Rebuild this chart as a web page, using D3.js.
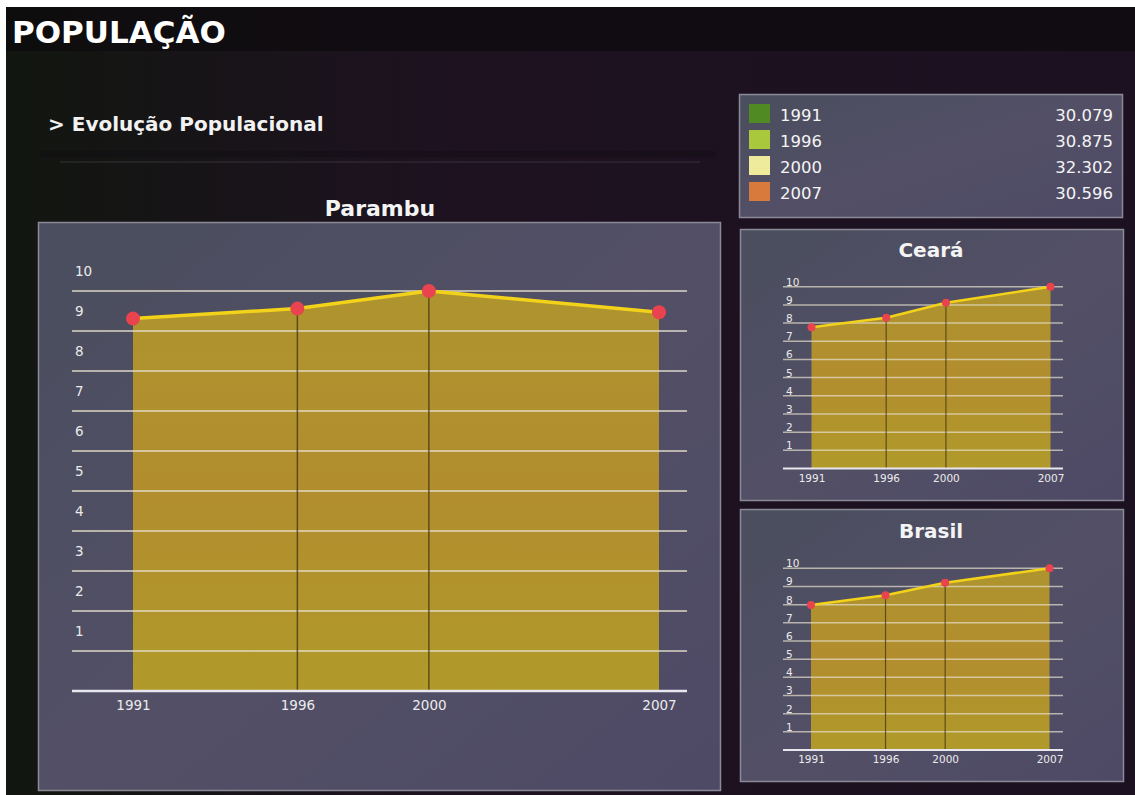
<!DOCTYPE html>
<html>
<head>
<meta charset="utf-8">
<script src="https://cdn.jsdelivr.net/npm/d3@7"></script>
<style>
  html, body { margin: 0; padding: 0; background: #ffffff; }
  svg { display: block; }
  text { font-family: "DejaVu Sans", Verdana, sans-serif; }
</style>
</head>
<body>
<svg id="chart" width="1135" height="795"></svg>
<script>
// ---------- DATA ----------
const years = [1991, 1996, 2000, 2007];
const parambuValues = [9.31, 9.56, 10.0, 9.47];
const cearaValues = [7.77, 8.29, 9.12, 10.0];
const brasilValues = [7.98, 8.52, 9.21, 10.0];
const yTickValues = [1, 2, 3, 4, 5, 6, 7, 8, 9, 10];
const legendYears = ["1991", "1996", "2000", "2007"];
const legendPopulation = ["30.079", "30.875", "32.302", "30.596"];
const legendColors = ["#4f8a22", "#a9c83c", "#eeec9c", "#d87a3c"];
const pageTitle = "POPULAÇÃO";
const sectionTitle = "> Evolução Populacional";

// ---------- SETUP ----------
const svg = d3.select("#chart");
const defs = svg.append("defs");

const bgGrad = defs.append("linearGradient").attr("id", "bgGrad")
  .attr("x1", 0).attr("y1", 0).attr("x2", 1).attr("y2", 0);
bgGrad.append("stop").attr("offset", "0%").attr("stop-color", "#121610");
bgGrad.append("stop").attr("offset", "40%").attr("stop-color", "#1e1221");
bgGrad.append("stop").attr("offset", "100%").attr("stop-color", "#1c1120");

const panelGrad = defs.append("linearGradient").attr("id", "panelGrad")
  .attr("x1", 0).attr("y1", 0).attr("x2", 1).attr("y2", 1);
panelGrad.append("stop").attr("offset", "0%").attr("stop-color", "#4a4e5e");
panelGrad.append("stop").attr("offset", "50%").attr("stop-color", "#524f66");
panelGrad.append("stop").attr("offset", "100%").attr("stop-color", "#4e4a66");

const areaGrad = defs.append("linearGradient").attr("id", "areaGrad")
  .attr("x1", 0).attr("y1", 0).attr("x2", 0).attr("y2", 1);
areaGrad.append("stop").attr("offset", "0%").attr("stop-color", "#ae942e");
areaGrad.append("stop").attr("offset", "50%").attr("stop-color", "#b28d2e");
areaGrad.append("stop").attr("offset", "100%").attr("stop-color", "#b09a2a");

// page background
svg.append("rect").attr("x", 0).attr("y", 0).attr("width", 1135).attr("height", 795).attr("fill", "#ffffff");
svg.append("rect").attr("x", 6).attr("y", 7).attr("width", 1129).attr("height", 788).attr("fill", "url(#bgGrad)");
svg.append("rect").attr("x", 6).attr("y", 7).attr("width", 1129).attr("height", 44).attr("fill", "#0d0b0e").attr("opacity", 0.75);

// title
svg.append("text").attr("x", 12).attr("y", 43)
  .attr("fill", "#ffffff").attr("font-weight", "bold").attr("font-size", 31)
  .text(pageTitle);

svg.append("text").attr("x", 48).attr("y", 131)
  .attr("fill", "#f2f2f2").attr("font-weight", "bold").attr("font-size", 20)
  .text(sectionTitle);

// separator
svg.append("rect").attr("x", 40).attr("y", 151).attr("width", 676).attr("height", 6).attr("fill", "#0f0c10").attr("opacity", 0.35);
svg.append("line").attr("x1", 60).attr("x2", 700).attr("y1", 162).attr("y2", 162)
  .attr("stroke", "#5a5560").attr("stroke-width", 1).attr("opacity", 0.45);

// ---------- LEGEND ----------
svg.append("rect").attr("x", 739.5).attr("y", 94.5).attr("width", 383).attr("height", 123)
  .attr("fill", "url(#panelGrad)").attr("stroke", "#8d8a98").attr("stroke-width", 1.5);
const legend = svg.append("g");
legendYears.forEach((yr, i) => {
  const row = legend.append("g").attr("transform", `translate(0, ${104 + i * 26})`);
  row.append("rect").attr("x", 749).attr("y", 0).attr("width", 21).attr("height", 19).attr("fill", legendColors[i]);
  row.append("text").attr("x", 780).attr("y", 17).attr("fill", "#f4f4f4").attr("font-size", 16.5).text(yr);
  row.append("text").attr("x", 1113).attr("y", 17).attr("text-anchor", "end").attr("fill", "#f4f4f4").attr("font-size", 16.5).text(legendPopulation[i]);
});

// ---------- CHART HELPER ----------
function drawChart(cfg) {
  const g = svg.append("g");
  // panel
  g.append("rect").attr("x", cfg.panel[0] + 0.5).attr("y", cfg.panel[1] + 0.5)
    .attr("width", cfg.panel[2]).attr("height", cfg.panel[3])
    .attr("fill", "url(#panelGrad)").attr("stroke", "#8d8a98").attr("stroke-width", 1.5);
  // title
  g.append("text").attr("x", cfg.titlePos[0]).attr("y", cfg.titlePos[1])
    .attr("text-anchor", "middle").attr("fill", "#f4f4f4").attr("font-weight", "bold")
    .attr("font-size", cfg.titleSize).text(cfg.title);

  const x = d3.scaleLinear().domain([years[0], years[years.length - 1]]).range(cfg.xRange);
  const y = d3.scaleLinear().domain([0, 10]).range(cfg.yRange);
  const pts = years.map((yr, i) => ({ yr, v: cfg.values[i] }));

  // area
  const area = d3.area().x(d => x(d.yr)).y0(y(0)).y1(d => y(d.v));
  g.append("path").datum(pts).attr("d", area).attr("fill", "url(#areaGrad)");

  // gridlines
  g.selectAll("line.grid").data(yTickValues).enter().append("line")
    .attr("x1", cfg.gridX[0]).attr("x2", cfg.gridX[1])
    .attr("y1", d => y(d)).attr("y2", d => y(d))
    .attr("stroke", "#e6e0cc").attr("stroke-opacity", 0.7).attr("stroke-width", cfg.gridW);

  // vertical drop lines at interior points
  g.selectAll("line.drop").data(pts.slice(1, -1)).enter().append("line")
    .attr("x1", d => x(d.yr)).attr("x2", d => x(d.yr))
    .attr("y1", d => y(d.v)).attr("y2", y(0))
    .attr("stroke", "#4a3c12").attr("stroke-width", cfg.dropW).attr("opacity", 0.8);

  // baseline
  g.append("line").attr("x1", cfg.gridX[0]).attr("x2", cfg.gridX[1])
    .attr("y1", y(0)).attr("y2", y(0))
    .attr("stroke", "#e8e6ee").attr("stroke-width", cfg.baseW);

  // y labels
  g.selectAll("text.ylab").data(yTickValues).enter().append("text")
    .attr("x", cfg.yLabelX).attr("y", d => y(d) + cfg.yLabelDy)
    .attr("dominant-baseline", "central")
    .attr("fill", "#ebebeb").attr("font-size", cfg.fontSize)
    .text(d => d);

  // x axis labels
  const xAxis = d3.axisBottom(x).tickValues(years).tickFormat(d3.format("d")).tickSize(0).tickPadding(cfg.xPad);
  const ax = g.append("g").attr("transform", `translate(0, ${y(0)})`).call(xAxis);
  ax.select(".domain").remove();
  ax.selectAll("text").attr("fill", "#ebebeb").attr("font-size", cfg.fontSize)
    .attr("font-family", "DejaVu Sans, Verdana, sans-serif");

  // line
  const line = d3.line().x(d => x(d.yr)).y(d => y(d.v));
  g.append("path").datum(pts).attr("d", line).attr("fill", "none")
    .attr("stroke", "#f3d21a").attr("stroke-width", cfg.lineW).attr("stroke-linejoin", "round");

  // points
  g.selectAll("circle").data(pts).enter().append("circle")
    .attr("cx", d => x(d.yr)).attr("cy", d => y(d.v)).attr("r", cfg.r)
    .attr("fill", "#e8434f");
}

drawChart({
  title: "Parambu", values: parambuValues,
  panel: [38, 222, 682, 568], titlePos: [380, 216], titleSize: 22,
  xRange: [133, 659], yRange: [691, 291], gridX: [72, 687],
  yLabelX: 75, yLabelDy: -20, fontSize: 13.5, xPad: 9,
  gridW: 2, dropW: 1.5, baseW: 2.5, lineW: 3.5, r: 7
});

drawChart({
  title: "Ceará", values: cearaValues,
  panel: [740, 229, 383, 271], titlePos: [931, 257], titleSize: 20,
  xRange: [811.5, 1050.5], yRange: [468.5, 286.7], gridX: [783, 1063],
  yLabelX: 786, yLabelDy: -5, fontSize: 10.5, xPad: 6,
  gridW: 1.5, dropW: 1.2, baseW: 2, lineW: 2.5, r: 4
});

drawChart({
  title: "Brasil", values: brasilValues,
  panel: [740, 509, 383, 272], titlePos: [931, 538], titleSize: 20,
  xRange: [811, 1049.5], yRange: [750, 568.3], gridX: [783, 1063],
  yLabelX: 786, yLabelDy: -5, fontSize: 10.5, xPad: 6,
  gridW: 1.5, dropW: 1.2, baseW: 2, lineW: 2.5, r: 4
});
</script>
</body>
</html>
